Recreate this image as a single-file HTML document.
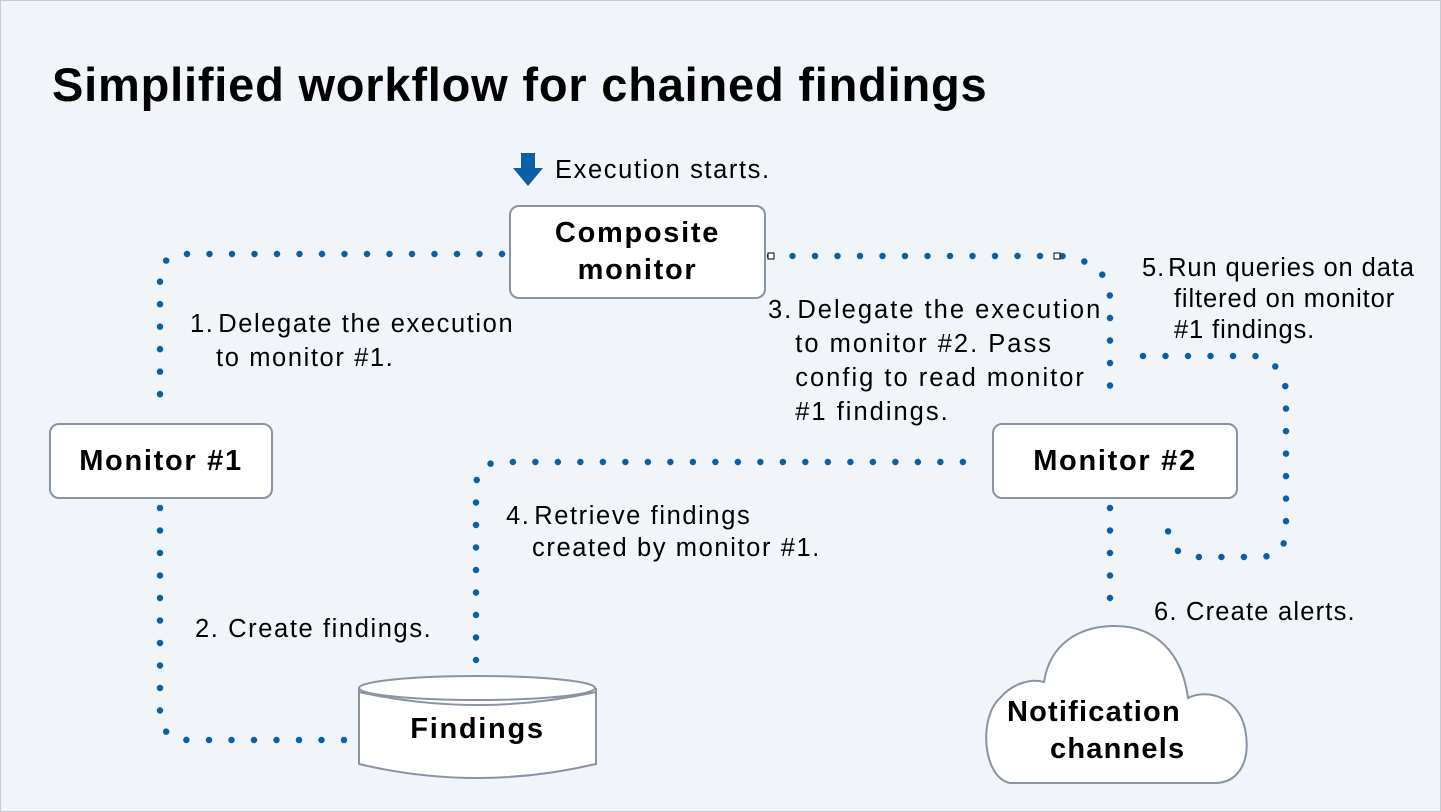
<!DOCTYPE html>
<html><head><meta charset="utf-8"><style>
html,body{margin:0;padding:0}
body{width:1441px;height:812px;background:#f1f4f8;position:relative;overflow:hidden;font-family:"Liberation Sans",sans-serif;color:#000}
.frame{position:absolute;left:0;top:0;width:1439px;height:810px;border:1px solid #c8ccd2}
svg{position:absolute;left:0;top:0}
.t{position:absolute;font-size:25.5px;line-height:34px;white-space:nowrap;letter-spacing:1.6px}
.b{font-weight:bold;font-size:29px;letter-spacing:1.7px}
</style></head><body>
<div class="frame"></div>
<svg width="1441" height="812">
<g fill="none" stroke="#0a5fa6" stroke-width="6.5" stroke-linecap="round" stroke-dasharray="0 22.5">
<path d="M502,254 L185,254 Q160,254 160,280 L160,405"/>
<path d="M160,508 L160,712 Q160,740 190,740 L345,740"/>
<path d="M476,660 L476,488 Q476,462 502,462 L980,462"/>
<path d="M770,256 L1062,256 Q1110,262 1110,300 L1110,405"/>
<path d="M1143,356 L1255,356 Q1286,364 1286,395 L1286,530 Q1286,557 1258,557 L1190,557 Q1165,550 1168,518"/>
<path d="M1110,508 L1110,620"/>
</g>
<rect x="768" y="253" width="6" height="6" fill="#fff" stroke="#000" stroke-width="1"/>
<rect x="1054" y="253" width="6" height="6" fill="#fff" stroke="#000" stroke-width="1"/>
<g fill="#fff" stroke="#8a93a3" stroke-width="2">
<rect x="510" y="206" width="255" height="92" rx="9"/>
<rect x="50" y="424" width="222" height="74" rx="9"/>
<rect x="993" y="424" width="244" height="74" rx="9"/>
<path d="M359,688 L359,764 Q477,792 596,764 L596,688"/>
<ellipse cx="477" cy="688" rx="118" ry="12"/>
<path d="M1010,783 C983,778 978,718 1000,698 C1012,684 1030,678 1044,682 C1050,643 1080,626 1115,626 C1155,626 1182,652 1188,698 C1207,688 1242,697 1246,735 C1250,765 1236,783 1215,783 Z"/>
</g>
<path d="M359,692 Q477,718 596,692" fill="none" stroke="#8a93a3" stroke-width="2"/>
<path d="M521,153 L521,168 L513,168 L528,186 L543,168 L535,168 L535,153 Z" fill="#0a5fa6"/>
</svg>
<div class="t" style="left:52px;top:57px;font-size:47px;line-height:56px;font-weight:bold;letter-spacing:0.8px">Simplified workflow for chained findings</div>
<div class="t" style="left:555px;top:153px">Execution starts.</div>
<div class="t b" style="left:510px;width:255px;top:215px;text-align:center;line-height:37px">Composite<br>monitor</div>
<div class="t b" style="left:50px;width:222px;top:444px;text-align:center">Monitor #1</div>
<div class="t b" style="left:993px;width:244px;top:444px;text-align:center">Monitor #2</div>
<div class="t b" style="left:359px;width:237px;top:712px;text-align:center">Findings</div>
<div class="t b" style="left:1007px;top:694px;line-height:37px;letter-spacing:1.2px">Notification</div>
<div class="t b" style="left:1050px;top:731px;line-height:37px;letter-spacing:1.2px">channels</div>
<div class="t" style="left:190px;top:307px">1.&#8202;Delegate the execution<br>&nbsp;&nbsp;&nbsp;to monitor #1.</div>
<div class="t" style="left:195px;top:612px">2. Create findings.</div>
<div class="t" style="left:768px;top:293px;letter-spacing:2px">3.&#8202;Delegate the execution<br>&nbsp;&nbsp;&nbsp;to monitor #2. Pass<br>&nbsp;&nbsp;&nbsp;config to read monitor<br>&nbsp;&nbsp;&nbsp;#1 findings.</div>
<div class="t" style="left:506px;top:500px;line-height:32px">4.&#8202;Retrieve findings<br>&nbsp;&nbsp;&nbsp;created by monitor #1.</div>
<div class="t" style="left:1142px;top:253px;line-height:31px;letter-spacing:0.9px">5.&#8202;Run queries on data<br>&nbsp;&nbsp;&nbsp;&nbsp;filtered on monitor<br>&nbsp;&nbsp;&nbsp;&nbsp;#1 findings.</div>
<div class="t" style="left:1154px;top:595px;letter-spacing:1.2px">6. Create alerts.</div>
</body></html>
